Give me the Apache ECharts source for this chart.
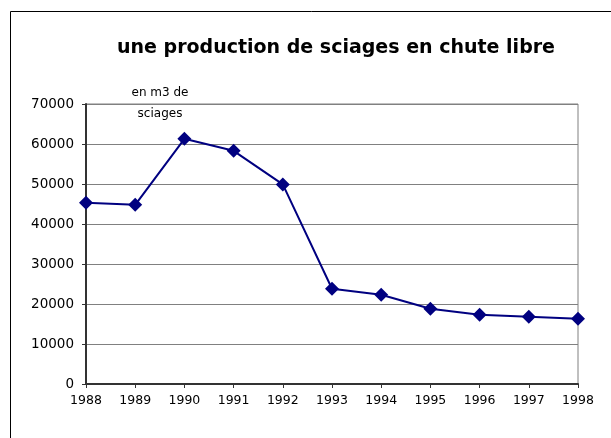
<!DOCTYPE html>
<html>
<head>
<meta charset="utf-8">
<script src="https://cdn.jsdelivr.net/npm/echarts@6/dist/echarts.min.js"></script>
<style>
  html, body {margin: 0; padding: 0; background: #fff;}
  #chart {width: 611px; height: 438px;}
</style>
</head>
<body>
<div id="chart"></div>
<script>
var years = ['1988', '1989', '1990', '1991', '1992', '1993', '1994', '1995', '1996', '1997', '1998'];
var production = [45300, 44800, 61300, 58300, 49900, 23800, 22300, 18800, 17300, 16800, 16300];
var titleText = 'une production de sciages en chute libre';
var unitNote = 'en m3 de\nsciages';

var font = 'DejaVu Sans, Verdana, sans-serif';
var chart = echarts.init(document.getElementById('chart'));
chart.setOption({
  animation: false,
  backgroundColor: '#fff',
  textStyle: {fontFamily: font},
  title: {
    text: titleText,
    left: 331,
    top: 34,
    textAlign: 'center',
    textStyle: {fontSize: 19, fontWeight: 'bold', color: '#000', fontFamily: font}
  },
  graphic: [
    {
      type: 'rect',
      shape: {x: 10.5, y: 11.5, width: 640, height: 460},
      style: {fill: 'none', stroke: '#000', lineWidth: 1},
      silent: true
    },
    {
      type: 'text',
      x: 160,
      y: 82,
      style: {text: unitNote, fontSize: 12, lineHeight: 21, align: 'center', verticalAlign: 'top',
              fill: '#000', fontFamily: font}
    }
  ],
  grid: {left: 86, right: 33, top: 104, bottom: 54, show: true, borderColor: '#808080', borderWidth: 1},
  xAxis: {
    type: 'category',
    data: years,
    boundaryGap: false,
    axisLine: {lineStyle: {color: '#333', width: 2}},
    axisTick: {alignWithLabel: true, length: 4, lineStyle: {color: '#333'}},
    axisLabel: {color: '#000', fontSize: 12.5, margin: 10}
  },
  yAxis: {
    type: 'value',
    min: 0,
    max: 70000,
    interval: 10000,
    axisLine: {show: true, lineStyle: {color: '#333', width: 2}},
    axisTick: {show: true, length: 4, lineStyle: {color: '#333'}},
    axisLabel: {color: '#000', fontSize: 13.5, margin: 12, formatter: function (v) { return String(v); }},
    splitLine: {lineStyle: {color: '#808080', width: 1}}
  },
  series: [{
    type: 'line',
    data: production,
    symbol: 'diamond',
    symbolSize: 14,
    lineStyle: {color: '#000080', width: 2},
    itemStyle: {color: '#000080'}
  }]
});
</script>
</body>
</html>
